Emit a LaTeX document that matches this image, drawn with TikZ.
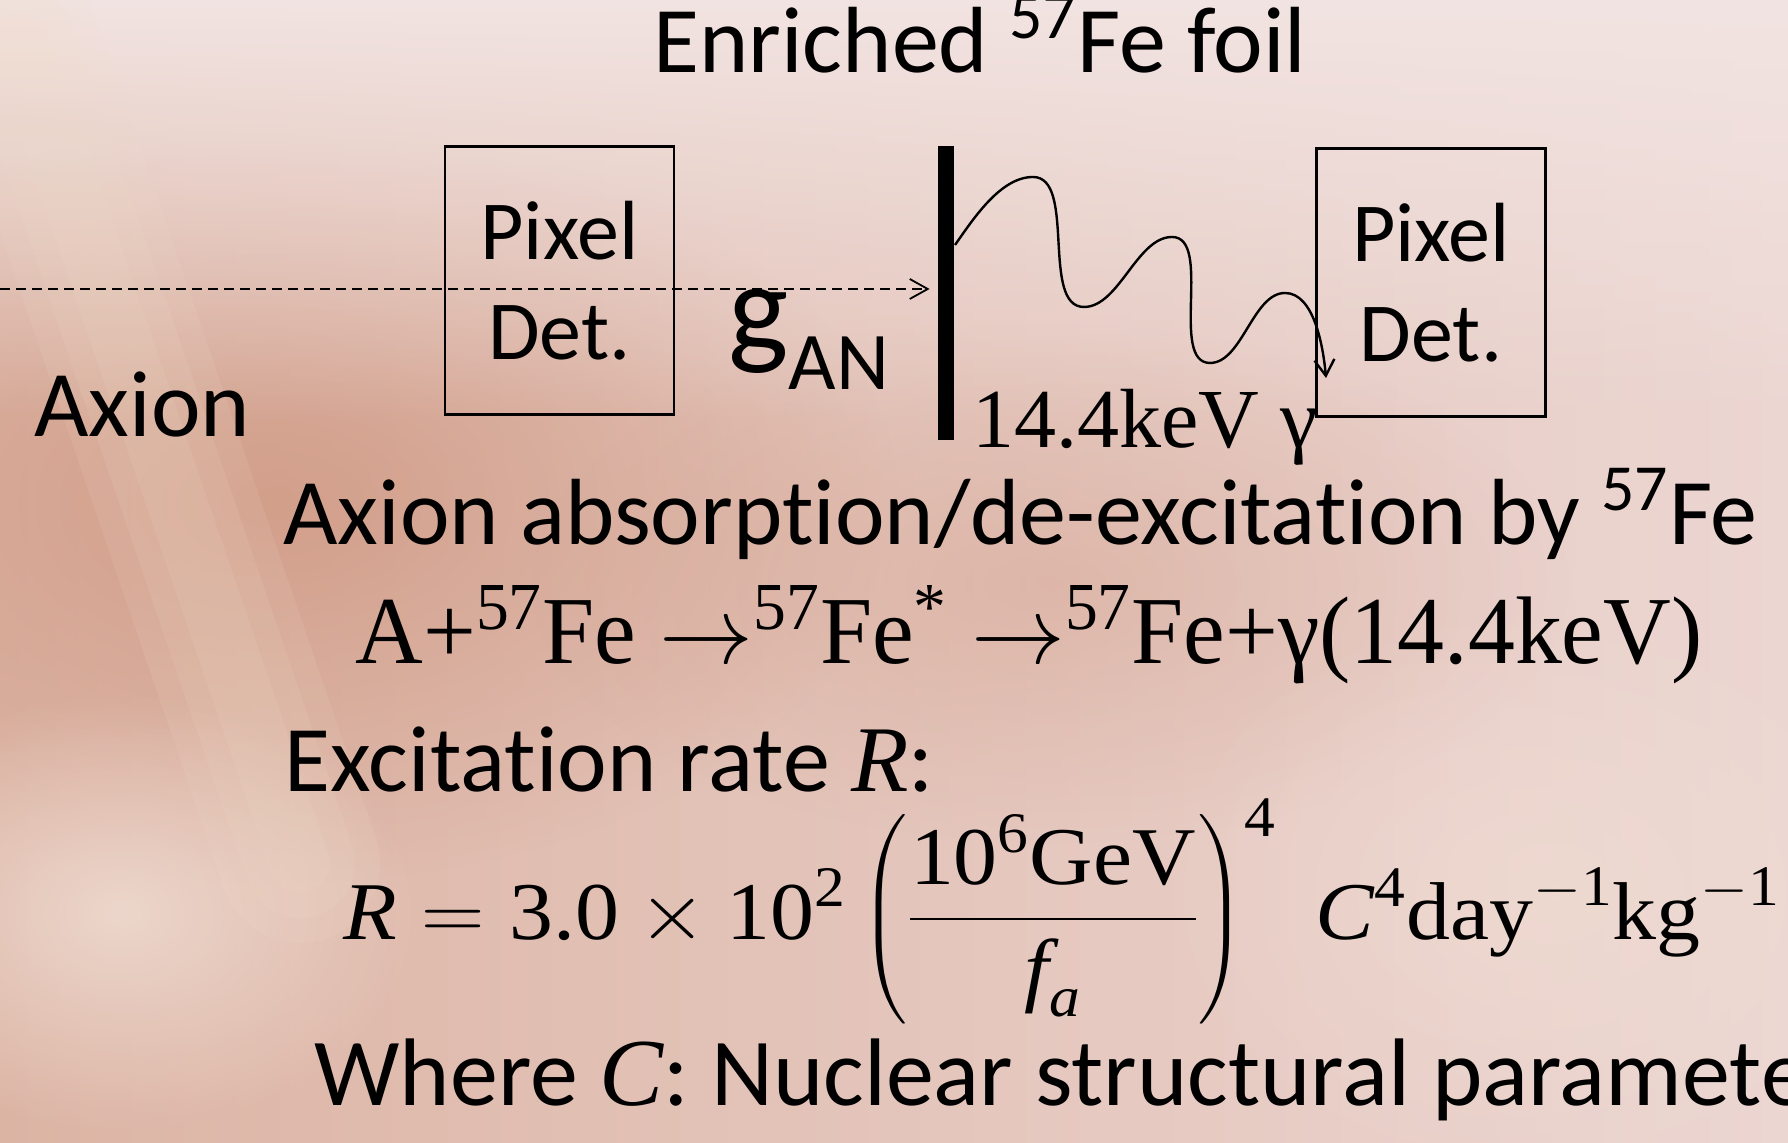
\RequirePackage{fix-cm}
\documentclass[tikz,border=0pt]{standalone}
\usepackage{amsmath}
\usepackage{fontspec}
\setmainfont{Carlito}[Ligatures=NoCommon]
\newfontfamily\timesfont{Liberation Serif}
\usepackage{graphicx}
\usepackage{xcolor}
\usepackage{tikz}
\usetikzlibrary{arrows.meta,positioning,fadings}
\definecolor{slideleft}{RGB}{220,180,164}
\definecolor{slideright}{RGB}{236,214,210}
\definecolor{slidetop}{RGB}{242,228,226}
\definecolor{slidesalmon}{RGB}{206,150,128}
\definecolor{slidepale}{RGB}{240,222,212}
\definecolor{slidestreak}{RGB}{240,222,204}
\tikzfading[name=softblob, inner color=transparent!0, outer color=transparent!100]
\tikzset{
  detbox/.style={draw, line width=1.2pt, minimum width=114.5pt, minimum height=134pt, inner sep=0, align=center, font=\fontsize{42pt}{50pt}\selectfont},
  foilbar/.style={fill=black, minimum width=8pt, minimum height=147pt, inner sep=0},
  beam/.style={dash pattern=on 5pt off 3pt, line width=0.9pt, shorten >=4pt, -{Straight Barb[length=9pt,width=10pt]}},
  photon/.style={line width=1.2pt, looseness=0.8, -{Straight Barb[length=8pt,width=10pt]}},
  slidetext/.style={inner sep=0, anchor=base west, font=\fontsize{47pt}{56pt}\selectfont},
  seriftext/.style={inner sep=0, anchor=base west, font=\timesfont\fontsize{42pt}{50pt}\selectfont}
}
\newcommand{\itsym}[1]{{\timesfont\itshape #1}}
\newcommand{\eqrm}[1]{\text{\timesfont #1}}
\newcommand{\eqit}[1]{\text{\timesfont\itshape #1}}
\begin{document}
\begin{tikzpicture}[x=0.5pt,y=0.5pt]
% slide background
\useasboundingbox (0,0) rectangle (1788,1143);
\clip (0,0) rectangle (1788,1143);
\shade[left color=slideleft, right color=slideright] (0,0) rectangle (1788,1143);
\fill[slidesalmon, opacity=0.75, path fading=softblob] (280,640) ellipse [x radius=620, y radius=380];
\fill[slidesalmon, opacity=0.35, path fading=softblob] (1050,560) ellipse [x radius=520, y radius=260];
\fill[slidetop, path fading=south] (0,720) rectangle (1788,1143);
\fill[slidepale, opacity=0.8, path fading=softblob] (120,230) ellipse [x radius=300, y radius=220];
\fill[slidepale, opacity=0.6, path fading=softblob] (1550,250) ellipse [x radius=400, y radius=300];
\foreach \w in {30,55,80}
  \draw[slidestreak, opacity=0.12, line width=\w pt, line cap=round] (20,1100) -- (300,280);
% setup
\node[slidetext, anchor=base] (title) at (980,1070) {Enriched \textsuperscript{57}Fe foil};
\node[detbox] (detin) at (559.5,862.5) {Pixel\\Det.};
\node[detbox] (detout) at (1431,860.5) {Pixel\\Det.};
\node[foilbar] (foil) at (946,850) {};
\node[slidetext] (axionlbl) at (34,706) {Axion};
\node[inner sep=0, anchor=base west] (coupling) at (728,791)
  {\fontsize{64pt}{68pt}\selectfont g\raisebox{-19pt}{\fontsize{41pt}{44pt}\selectfont AN}};
\node[seriftext] (gammalbl) at (972,695) {14.4keV γ};
\coordinate (beamstart) at (0,854);
\draw[beam] (beamstart) -- (foil.west |- beamstart);
\coordinate (wavestart) at (955,898);
\coordinate (photonend) at (1326,765);
\draw[photon] (wavestart) to[out=55,in=180] (1033,966) to[out=0,in=180] (1084,836)
  to[out=0,in=180] (1172,906) to[out=0,in=180] (1210,780)
  to[out=0,in=180] (1285,850) to[out=0,in=95] (photonend);
% process and rate
\node[slidetext] (absorb) at (283,598) {Axion absorption/de-excitation by \textsuperscript{57}Fe};
\node[inner sep=0, anchor=base west, font=\timesfont\fontsize{48pt}{56pt}\selectfont] (reaction) at (355,479)
  {\resizebox{673.5pt}{\height}{A+\textsuperscript{57}Fe $\rightarrow$\textsuperscript{57}Fe\textsuperscript{*} $\rightarrow$\textsuperscript{57}Fe+γ(14.4keV)}};
\node[slidetext] (ratelbl) at (284,351) {Excitation rate \itsym{R}:};
\node[inner sep=0, anchor=base west, font=\fontsize{41pt}{48pt}\selectfont] (rateeq) at (343,203)
  {\resizebox{718.5pt}{\height}{$\displaystyle \eqit{R} = \eqrm{3.0}\times\eqrm{10}^{\eqrm{2}}\left(\frac{\eqrm{10}^{\eqrm{6}}\eqrm{GeV}}{\eqit{f}_{\eqit{a}}}\right)^{\eqrm{4}}\; \eqit{C}^{\eqrm{4}}\eqrm{day}^{-\eqrm{1}}\eqrm{kg}^{-\eqrm{1}}$}};
\node[slidetext, font=\fontsize{48pt}{56pt}\selectfont] (wherelbl) at (314,37) {Where \itsym{C}: Nuclear structural parameter};
\end{tikzpicture}
\end{document}
